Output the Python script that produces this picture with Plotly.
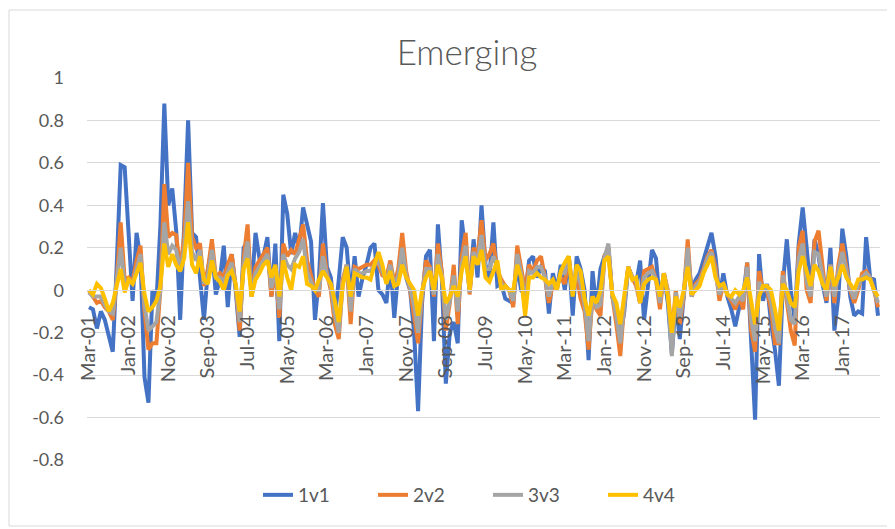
import pandas as pd
import plotly.graph_objects as go

# Categories: monthly, Mar-01 .. Oct-17
months = pd.date_range("2001-03-01", periods=200, freq="MS").strftime("%b-%y").tolist()
tick_labels = months[::10]

y_ticks = [1, 0.8, 0.6, 0.4, 0.2, 0, -0.2, -0.4, -0.6, -0.8]
y_tick_text = ["1", "0.8", "0.6", "0.4", "0.2", "0", "-0.2", "-0.4", "-0.6", "-0.8"]

s_1v1 = [
    -0.08, -0.09, -0.18, -0.10, -0.14, -0.22, -0.29, 0.12, 0.59, 0.58,
    0.25, -0.05, 0.27, 0.15, -0.41, -0.53, 0.0, -0.06, 0.3, 0.88,
    0.4, 0.48, 0.28, -0.14, 0.3, 0.8, 0.27, 0.25, 0.06, -0.14,
    0.1, 0.2, -0.02, 0.05, 0.21, -0.08, 0.17, 0.0, -0.22, 0.2,
    0.23, 0.0, 0.27, 0.15, 0.16, 0.25, -0.03, 0.22, -0.24, 0.45,
    0.36, 0.17, 0.27, 0.19, 0.39, 0.3, 0.23, -0.14, 0.06, 0.41,
    0.11, 0.06, -0.13, 0.05, 0.25, 0.2, -0.03, 0.16, -0.03, 0.06,
    0.12, 0.2, 0.22, 0.0, -0.02, -0.06, 0.13, -0.13, 0.09, 0.19,
    0.06, 0.0, -0.2, -0.57, -0.06, 0.16, 0.19, -0.24, 0.31, 0.05,
    -0.44, -0.2, -0.15, -0.25, 0.33, 0.18, 0.0, 0.24, 0.06, 0.4,
    0.12, 0.06, 0.32, 0.02, 0.03, -0.04, -0.05, -0.06, 0.12, 0.0,
    -0.02, 0.14, 0.16, 0.06, 0.11, 0.09, -0.11, 0.08, 0.0, 0.12,
    0.0, 0.16, -0.12, 0.16, 0.1, 0.0, -0.33, 0.09, -0.09, 0.1,
    0.16, 0.2, -0.03, -0.1, -0.22, -0.1, 0.11, 0.06, 0.03, 0.14,
    -0.14, 0.03, 0.19, 0.15, -0.06, 0.08, -0.06, -0.3, -0.06, -0.23,
    -0.02, 0.17, 0.0, 0.05, 0.08, 0.14, 0.2, 0.27, 0.16, -0.03,
    0.08, -0.03, -0.09, -0.17, -0.08, -0.03, 0.13, -0.25, -0.61, 0.17,
    -0.05, 0.03, -0.15, -0.28, -0.45, 0.03, 0.24, 0.0, -0.14, 0.22,
    0.39, 0.2, 0.0, 0.24, 0.16, 0.03, -0.06, 0.2, -0.19, -0.03,
    0.29, 0.16, -0.03, -0.12, -0.1, -0.11, 0.25, 0.06, 0.05, -0.12,
]

s_2v2 = [
    0.0, -0.03, -0.06, -0.05, -0.08, -0.1, -0.14, 0.05, 0.32, 0.05,
    0.06, 0.04, 0.14, 0.21, -0.1, -0.28, -0.25, -0.25, 0.0, 0.5,
    0.25, 0.27, 0.26, 0.1, 0.25, 0.6, 0.25, 0.2, 0.22, 0.02,
    0.1, 0.24, 0.06, 0.08, 0.06, 0.12, 0.17, 0.02, -0.19, 0.15,
    0.31, -0.03, 0.11, 0.14, 0.17, 0.2, -0.03, 0.1, -0.13, 0.22,
    0.16, 0.19, 0.17, 0.25, 0.31, 0.14, 0.06, 0.0, -0.03, 0.22,
    0.08, 0.0, -0.16, -0.23, 0.05, 0.12, -0.16, 0.11, 0.1, 0.11,
    0.12, 0.12, 0.14, 0.12, 0.07, 0.06, 0.14, 0.03, 0.1, 0.27,
    0.09, 0.0, -0.12, -0.25, -0.03, 0.14, 0.11, -0.03, 0.22, 0.09,
    -0.19, -0.06, 0.12, -0.16, 0.16, 0.27, -0.02, 0.2, 0.16, 0.33,
    0.14, 0.17, 0.22, 0.09, 0.05, 0.02, 0.0, -0.08, 0.21, 0.11,
    0.0, 0.12, 0.09, 0.14, 0.16, 0.06, -0.06, 0.03, 0.02, 0.06,
    0.03, 0.16, 0.0, 0.06, -0.04, -0.1, -0.28, -0.03, -0.09, -0.12,
    0.16, 0.2, -0.03, -0.16, -0.31, -0.06, 0.11, 0.06, 0.02, -0.06,
    0.09, 0.1, 0.11, 0.05, -0.09, 0.08, 0.0, -0.22, 0.0, -0.16,
    -0.03, 0.24, -0.03, 0.03, 0.05, 0.1, 0.16, 0.19, 0.11, -0.05,
    0.03, -0.02, -0.05, -0.09, -0.03, -0.09, 0.13, -0.19, -0.29, 0.09,
    0.0, 0.0, -0.09, -0.25, -0.25, 0.09, -0.06, -0.19, -0.26, 0.2,
    0.28, 0.0, -0.06, 0.23, 0.28, 0.12, -0.05, 0.12, -0.06, 0.12,
    0.22, 0.11, 0.0, -0.06, 0.0, 0.08, 0.09, 0.06, 0.0, -0.08,
]

s_3v3 = [
    -0.01, -0.03, -0.03, -0.03, -0.07, -0.1, -0.11, 0.03, 0.2, 0.03,
    0.05, 0.03, 0.11, 0.17, -0.07, -0.19, -0.17, -0.15, 0.0, 0.32,
    0.17, 0.21, 0.19, 0.09, 0.2, 0.42, 0.18, 0.14, 0.19, 0.03,
    0.07, 0.19, 0.06, 0.06, 0.04, 0.09, 0.13, 0.02, -0.15, 0.12,
    0.23, -0.03, 0.08, 0.11, 0.14, 0.17, 0.01, 0.1, -0.09, 0.17,
    0.12, 0.1, 0.15, 0.18, 0.24, 0.09, 0.04, 0.0, 0.0, 0.16,
    0.07, 0.02, -0.11, -0.2, 0.03, 0.12, -0.1, 0.1, 0.08, 0.08,
    0.09, 0.09, 0.12, 0.14, 0.09, 0.04, 0.12, 0.02, 0.07, 0.2,
    0.07, 0.01, -0.07, -0.2, -0.02, 0.1, 0.1, -0.02, 0.17, 0.07,
    -0.14, -0.05, 0.07, -0.1, 0.12, 0.21, -0.01, 0.18, 0.14, 0.26,
    0.1, 0.1, 0.16, 0.11, 0.03, 0.02, 0.0, -0.05, 0.17, 0.08,
    -0.06, 0.09, 0.08, 0.11, 0.11, 0.06, -0.03, 0.04, 0.01, 0.08,
    0.08, 0.16, -0.02, 0.09, 0.03, -0.07, -0.24, -0.03, -0.08, -0.07,
    0.15, 0.22, -0.03, -0.12, -0.25, -0.05, 0.11, 0.06, 0.04, -0.06,
    0.06, 0.08, 0.09, 0.05, -0.06, 0.08, -0.01, -0.31, -0.01, -0.13,
    -0.02, 0.2, -0.03, 0.02, 0.04, 0.09, 0.15, 0.18, 0.09, -0.02,
    0.03, -0.02, -0.04, -0.06, -0.03, -0.05, 0.11, -0.14, -0.24, 0.04,
    0.0, 0.01, -0.05, -0.18, -0.25, 0.07, -0.03, -0.14, -0.16, 0.15,
    0.22, 0.04, -0.03, 0.18, 0.17, 0.08, -0.03, 0.12, -0.03, 0.09,
    0.18, 0.09, 0.01, -0.04, 0.02, 0.06, 0.08, 0.06, 0.0, -0.06,
]

s_4v4 = [
    0.0, -0.02, 0.03, 0.01, -0.04, -0.1, -0.06, 0.02, 0.1, -0.01,
    0.05, 0.03, 0.08, 0.13, -0.02, -0.1, -0.08, -0.05, 0.02, 0.22,
    0.11, 0.17, 0.12, 0.09, 0.15, 0.32, 0.12, 0.08, 0.16, 0.05,
    0.03, 0.14, 0.06, 0.04, 0.0, 0.07, 0.09, 0.03, -0.1, 0.1,
    0.15, -0.03, 0.05, 0.08, 0.12, 0.14, 0.06, 0.12, -0.03, 0.14,
    0.06, 0.0, 0.12, 0.11, 0.16, 0.03, 0.02, 0.0, 0.05, 0.09,
    0.06, 0.03, -0.05, -0.15, 0.02, 0.11, -0.03, 0.08, 0.07, 0.06,
    0.06, 0.05, 0.12, 0.18, 0.12, 0.03, 0.09, 0.02, 0.03, 0.12,
    0.06, 0.03, 0.0, -0.12, 0.0, 0.06, 0.09, 0.0, 0.12, 0.06,
    -0.06, -0.03, 0.02, -0.03, 0.09, 0.16, 0.0, 0.16, 0.12, 0.19,
    0.06, 0.04, 0.09, 0.14, 0.0, 0.02, 0.0, 0.0, 0.12, 0.06,
    -0.12, 0.06, 0.06, 0.08, 0.06, 0.05, 0.03, 0.05, 0.0, 0.09,
    0.13, 0.16, -0.03, 0.12, 0.09, -0.04, -0.12, -0.03, -0.06, 0.0,
    0.14, 0.16, -0.02, -0.06, -0.16, -0.03, 0.11, 0.05, 0.06, -0.06,
    0.03, 0.05, 0.06, 0.05, -0.03, 0.08, -0.03, -0.2, -0.03, -0.08,
    0.0, 0.11, -0.02, 0.0, 0.02, 0.08, 0.12, 0.16, 0.06, 0.02,
    0.03, -0.02, -0.03, 0.0, -0.02, 0.0, 0.06, -0.06, -0.16, -0.03,
    0.02, 0.02, 0.0, -0.09, -0.19, 0.03, 0.0, -0.06, -0.08, 0.09,
    0.16, 0.09, 0.02, 0.12, 0.09, 0.03, 0.0, 0.11, 0.02, 0.06,
    0.12, 0.06, 0.03, 0.0, 0.05, 0.05, 0.06, 0.05, 0.0, -0.03,
]

series = [
    ("1v1", s_1v1, "#4472C4"),
    ("2v2", s_2v2, "#ED7D31"),
    ("3v3", s_3v3, "#A5A5A5"),
    ("4v4", s_4v4, "#FFC000"),
]

FONT = "Lato, 'Open Sans', sans-serif"
TXT = "#595959"

# The page body adds an 8px offset; the figure is sized to fit the window.
W, H = 887, 521
L, R, T, B = 79, 15, 70, 69
PW, PH = W - L - R, H - T - B

fig = go.Figure()
for name, vals, color in series:
    fig.add_trace(go.Scatter(
        x=months, y=vals, mode="lines", name=name,
        line=dict(color=color, width=4),
    ))

ymin, ymax = -0.8, 1.0
fig.update_layout(
    width=W, height=H,
    margin=dict(l=L, r=R, t=T, b=B),
    paper_bgcolor="white", plot_bgcolor="white",
    font=dict(family=FONT, color=TXT, size=18),
    title=dict(text="Emerging", x=459 / W, xanchor="center", xref="container",
               y=1 - 45 / H, yanchor="middle", yref="container",
               font=dict(size=35, color=TXT, family=FONT, weight=300)),
    showlegend=True,
    legend=dict(orientation="h", x=(250 - L) / PW, xanchor="left",
                y=(T + PH - 487) / PH, yanchor="middle",
                entrywidth=70, entrywidthmode="pixels",
                font=dict(size=19, color=TXT), bgcolor="rgba(0,0,0,0)",
                traceorder="normal"),
    xaxis=dict(type="category", categoryorder="array", categoryarray=months,
               range=[-0.5, len(months) - 0.5],
               tickmode="array", tickvals=tick_labels, ticktext=tick_labels,
               tickangle=-90, showgrid=False, ticks="",
               showline=True, linecolor="#D9D9D9", linewidth=1,
               anchor="free", position=(0 - ymin) / (ymax - ymin),
               ticklabelstandoff=16,
               tickfont=dict(size=20, color=TXT, family=FONT)),
    yaxis=dict(range=[ymin, ymax], tickmode="array", tickvals=y_ticks,
               ticktext=y_tick_text, showgrid=True, gridcolor="#D9D9D9",
               gridwidth=1, zeroline=False, showline=False, ticks="",
               ticklabelstandoff=22,
               tickfont=dict(size=18, color=TXT, family=FONT)),
    shapes=[dict(type="rect", xref="paper", yref="paper",
                 x0=(1 - L) / PW, x1=(881 - L) / PW,
                 y0=(T + PH - 518) / PH, y1=(T + PH - 2) / PH,
                 line=dict(color="#D9D9D9", width=1), fillcolor="rgba(0,0,0,0)",
                 layer="below")],
)

fig.write_html("out.html")
